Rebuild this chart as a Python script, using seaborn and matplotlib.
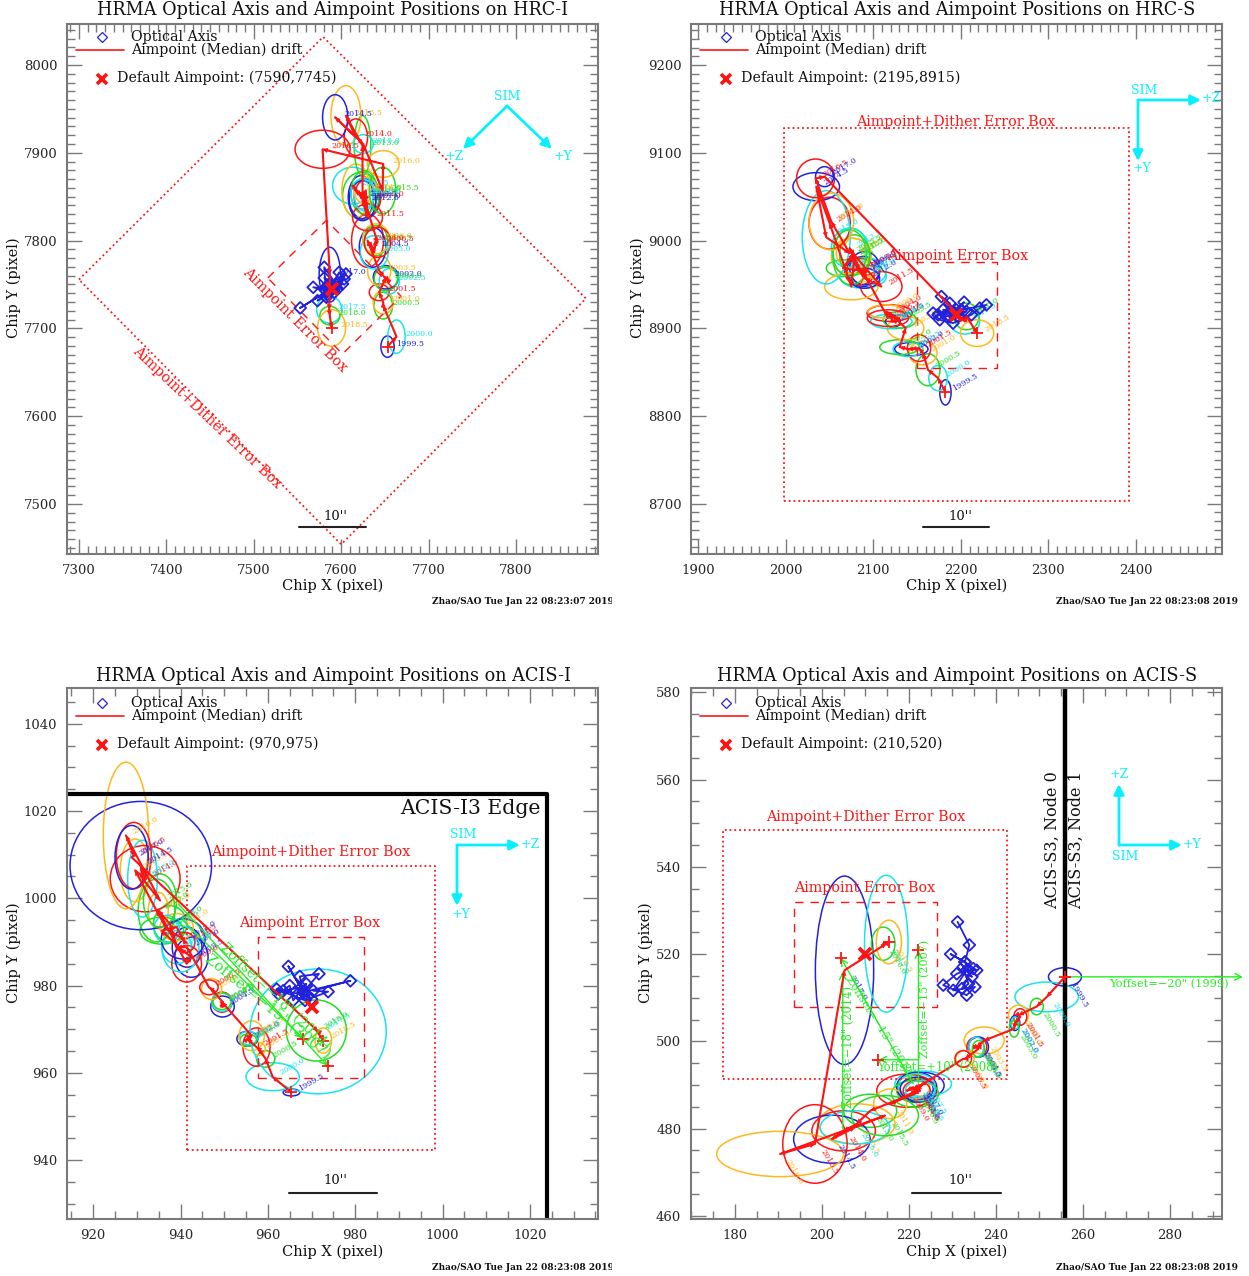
import seaborn as sns
import matplotlib.pyplot as plt
from matplotlib.patches import Ellipse, FancyArrowPatch
from matplotlib.ticker import MultipleLocator
from matplotlib.transforms import Bbox

# half-year sampling of the drift
years = ['1999.5', '2000.0', '2000.5', '2001.0', '2001.5', '2002.0', '2002.5', '2003.0',
         '2003.5', '2004.0', '2004.5', '2005.0', '2005.5', '2006.0', '2006.5', '2007.0',
         '2007.5', '2008.0', '2008.5', '2009.0', '2009.5', '2010.0', '2010.5', '2011.0',
         '2011.5', '2012.0', '2012.5', '2013.0', '2013.5', '2014.0', '2014.5', '2015.0',
         '2015.5', '2016.0', '2016.5', '2017.0', '2017.5', '2018.0', '2018.5']

# HRC-I
hrci_x = [7653.0, 7663.3, 7648.1, 7648.1, 7643.5, 7651.1, 7655.0, 7651.0, 7643.5, 7630.1,
          7635.9, 7637.8, 7639.7, 7639.7, 7641.6, 7626.3, 7613.0, 7622.5, 7616.8, 7630.1,
          7622.5, 7626.3, 7626.3, 7628.2, 7630.1, 7624.4, 7624.4, 7624.4, 7605.4, 7616.8,
          7593.1, 7625.2, 7647.3, 7648.1, 7578.7, 7587.0, 7586.3, 7587.0, 7589.0]
hrci_y = [7679.2, 7690.6, 7725.9, 7729.7, 7741.1, 7758.2, 7753.6, 7756.3, 7765.8, 7800.0,
          7792.4, 7786.7, 7800.0, 7801.9, 7798.0, 7847.4, 7862.6, 7851.2, 7856.9, 7849.3,
          7849.3, 7853.1, 7855.0, 7856.9, 7826.5, 7845.5, 7853.1, 7908.2, 7942.3, 7917.7,
          7940.4, 7910.0, 7856.9, 7887.3, 7904.0, 7761.2, 7721.4, 7714.5, 7700.5]
hrci_rx = [7.6, 9.9, 10.6, 11.4, 11.4, 14.4, 11.4, 13.3, 13.3, 18.2, 15.2, 16.0, 13.3, 15.2,
           15.2, 17.1, 22.8, 20.9, 16.0, 15.2, 14.4, 11.4, 15.2, 13.3, 17.1, 15.2, 13.3, 9.5,
           17.1, 13.3, 14.4, 11.4, 15.2, 18.2, 31.5, 12.2, 14.4, 11.4, 16.0]
hrci_ry = [12.2, 19.0, 15.2, 13.3, 9.5, 13.3, 14.4, 13.3, 17.1, 30.4, 22.8, 19.0, 17.1, 17.1,
           17.1, 22.8, 20.9, 26.6, 30.4, 20.9, 24.7, 19.0, 24.7, 15.2, 15.2, 22.8, 17.1, 34.2,
           34.2, 20.9, 25.8, 10.6, 26.6, 15.2, 21.7, 31.2, 15.2, 10.6, 20.9]
hrci_ox = [7588.2, 7553.1, 7588.2, 7568.0, 7582.5, 7580.6, 7593.9, 7580.6, 7590.1, 7597.7,
           7586.3, 7605.4, 7592.0, 7603.4, 7584.4, 7572.9, 7590.1, 7601.5, 7583.2, 7593.9,
           7588.2, 7586.3, 7595.8, 7584.4, 7592.0, 7580.6]
hrci_oy = [7744.9, 7723.3, 7744.9, 7746.8, 7743.0, 7769.6, 7750.6, 7757.4, 7746.8, 7763.9,
           7744.9, 7762.0, 7741.1, 7756.3, 7739.2, 7731.6, 7744.9, 7750.6, 7735.4, 7746.8,
           7743.0, 7750.6, 7744.9, 7746.8, 7748.7, 7744.9]

# HRC-S
hrcs_x = [2182.5, 2174.1, 2162.6, 2156.9, 2152.4, 2143.6, 2139.8, 2130.3, 2137.1, 2118.8,
          2122.6, 2120.7, 2130.3, 2115.0, 2116.9, 2088.4, 2092.9, 2065.5, 2075.0, 2084.5,
          2090.3, 2088.4, 2075.0, 2076.9, 2109.3, 2090.3, 2073.1, 2078.8, 2075.0, 2050.3,
          2035.0, 2046.4, 2073.1, 2052.2, 2034.2, 2044.5, 2204.6, 2206.5, 2218.7]
hrcs_y = [8826.8, 8843.1, 8852.6, 8871.6, 8877.3, 8876.2, 8876.2, 8878.4, 8900.1, 8917.2,
          8907.7, 8907.7, 8909.6, 8919.0, 8911.5, 8964.6, 8964.6, 8968.4, 8981.7, 8964.6,
          8968.4, 8958.9, 8981.7, 8985.5, 8947.5, 8957.0, 8991.2, 8983.6, 8947.5, 9019.7,
          9061.4, 9003.7, 8985.5, 9021.6, 9070.9, 9072.8, 8907.7, 8913.4, 8894.4]
hrcs_rx = [6.5, 10.6, 13.7, 16.0, 13.3, 19.0, 17.1, 22.8, 20.9, 25.8, 8.4, 23.6, 19.0, 20.9,
           23.6, 19.0, 22.0, 19.0, 22.8, 17.1, 17.1, 26.6, 20.9, 19.0, 23.6, 17.1, 20.9, 17.1,
           30.4, 23.6, 26.6, 27.4, 19.0, 25.5, 21.7, 10.3, 17.1, 14.4, 19.0]
hrcs_ry = [14.4, 14.4, 18.2, 13.3, 15.2, 7.6, 8.4, 8.4, 13.3, 9.5, 6.8, 8.4, 9.5, 7.6, 9.5,
           17.1, 15.2, 9.5, 20.9, 15.2, 19.0, 13.3, 32.3, 17.1, 17.1, 11.4, 22.8, 22.8, 15.2,
           29.6, 16.0, 53.2, 26.6, 32.3, 22.0, 11.4, 14.4, 15.2, 15.2]
hrcs_ox = [2193.1, 2177.9, 2187.4, 2193.1, 2203.8, 2195.0, 2168.4, 2176.0, 2191.2, 2212.2,
           2221.7, 2229.3, 2200.7, 2183.6, 2174.1, 2187.4, 2196.9, 2179.8, 2206.5, 2187.4]
hrcs_oy = [8917.2, 8936.1, 8928.5, 8917.2, 8929.7, 8921.0, 8917.2, 8909.6, 8905.8, 8915.3,
           8922.9, 8926.6, 8921.0, 8913.4, 8915.3, 8919.0, 8913.4, 8921.0, 8919.0, 8913.4]

# ACIS-I
acisi_x = [965.4, 961.1, 959.5, 957.9, 957.4, 955.3, 955.5, 955.5, 956.3, 949.5, 949.6, 949.5,
           949.5, 947.1, 946.5, 941.5, 939.1, 937.6, 934.9, 941.4, 942.5, 940.0, 935.7, 939.1,
           941.0, 940.6, 936.8, 934.5, 929.6, 931.9, 930.9, 931.3, 935.3, 927.5, 929.3, 928.8,
           971.5, 971.1, 972.7]
acisi_y = [955.5, 959.1, 963.2, 965.5, 965.9, 967.8, 968.0, 967.5, 968.5, 976.2, 975.2, 976.2,
           976.4, 979.2, 979.6, 988.8, 988.8, 994.1, 997.2, 985.0, 986.5, 988.4, 992.6, 993.4,
           989.9, 990.7, 993.0, 997.2, 1006.4, 1004.5, 1007.5, 1004.5, 999.5, 1014.4, 1009.8,
           1009.4, 969.5, 969.7, 967.4]
acisi_rx = [1.9, 6.1, 2.1, 1.5, 3.1, 2.4, 2.1, 1.9, 2.9, 2.3, 2.7, 2.3, 2.1, 2.3, 2.1, 3.4, 3.4,
            3.8, 2.3, 3.4, 3.8, 4.2, 5.0, 3.8, 2.3, 5.0, 2.9, 4.2, 3.4, 8.0, 16.2, 3.4, 3.8, 5.2,
            4.0, 3.8, 15.6, 6.9, 1.9]
acisi_ry = [0.8, 3.2, 1.9, 1.5, 4.4, 1.7, 1.5, 1.4, 3.4, 2.3, 2.4, 2.1, 1.9, 2.4, 1.7, 4.6, 3.8,
            4.2, 4.2, 4.2, 4.6, 5.3, 3.1, 3.1, 2.3, 4.6, 3.1, 7.2, 7.2, 7.6, 14.7, 8.8, 6.1, 16.8,
            7.6, 7.3, 14.3, 7.0, 2.9]
acisi_ox = [968.1, 964.7, 968.1, 967.3, 971.7, 968.1, 978.9, 970.4, 973.8, 968.5, 962.0, 962.4,
            965.0, 965.8, 968.8, 966.9, 969.2, 963.5, 967.7, 970.0]
acisi_oy = [978.5, 984.4, 978.5, 982.1, 982.7, 978.5, 981.1, 978.8, 978.6, 976.6, 979.2, 978.1,
            980.0, 976.6, 980.4, 978.1, 977.7, 978.8, 979.6, 976.9]

# ACIS-S
aciss_x = [255.9, 251.7, 249.4, 245.2, 245.6, 244.4, 244.4, 244.2, 237.3, 235.6, 236.0, 235.5,
           236.0, 232.9, 232.5, 222.7, 223.3, 221.8, 221.0, 219.5, 221.8, 221.8, 221.4, 215.7,
           221.8, 221.8, 222.6, 211.1, 208.0, 205.0, 202.3, 207.6, 214.5, 190.4, 198.4, 205.2,
           214.8, 214.1, 215.4]
aciss_y = [514.8, 510.2, 508.0, 506.0, 505.6, 504.2, 504.2, 502.9, 500.2, 498.7, 498.7, 498.7,
           498.3, 496.0, 496.0, 489.9, 490.3, 488.7, 489.5, 488.7, 489.5, 489.9, 488.0, 485.7,
           488.7, 489.1, 488.7, 484.1, 481.1, 479.5, 477.6, 480.3, 483.0, 474.2, 476.5, 516.3,
           522.4, 522.4, 522.8]
aciss_rx = [3.8, 7.3, 1.5, 2.3, 1.5, 1.1, 0.9, 1.1, 4.6, 2.3, 2.3, 1.7, 1.4, 2.1, 1.9, 5.4, 6.5,
            4.6, 3.8, 6.9, 4.6, 4.2, 5.4, 3.8, 3.1, 3.8, 3.4, 6.1, 8.8, 7.3, 8.8, 8.0, 7.7, 14.6,
            7.4, 6.7, 5.0, 2.7, 2.9]
aciss_ry = [2.1, 3.4, 1.9, 2.3, 1.9, 1.7, 1.4, 1.9, 3.1, 2.3, 2.3, 2.3, 1.9, 1.9, 1.9, 3.1, 2.9,
            2.7, 2.7, 3.8, 3.4, 2.7, 3.1, 3.4, 2.3, 2.7, 2.3, 3.8, 4.6, 4.6, 5.5, 3.8, 4.6, 5.2,
            9.0, 21.6, 15.7, 3.8, 5.0]
aciss_ox = [231.2, 233.9, 232.9, 229.6, 232.9, 235.6, 233.3, 231.0, 227.9, 233.3, 235.2, 230.2,
            233.3, 234.5, 232.5, 233.7, 232.2, 234.8]
aciss_oy = [527.4, 522.1, 518.2, 520.0, 518.2, 516.3, 516.3, 515.5, 512.9, 510.6, 512.5, 511.7,
            516.3, 514.8, 517.1, 513.2, 512.1, 516.7]

colors = ['#2222dd', '#18e4ee', '#22dd22', '#ffb81c', '#ff1414']
red = '#ff1414'
green = '#22ee22'
cyan = '#08f0ff'
gray = '#7a7a7a'
W, H = 1249, 1276

sns.set_theme(style='ticks')
plt.rcParams['font.family'] = ['DejaVu Serif', 'DejaVu Sans']
plt.rcParams['text.color'] = '#111111'

fig = plt.figure(figsize=(W / 100, H / 100), dpi=100)


def fx(px, py):
    return px / W, 1 - py / H


def ftext(px, py, s, size=10, color='#111111', ha='left', rot=0, **kw):
    return fig.text(px / W, 1 - py / H, s, fontsize=size, color=color, ha=ha, va='center',
                    rotation=rot, rotation_mode='anchor', zorder=10, **kw)


def farrow(p0, p1, color=cyan):
    fig.add_artist(FancyArrowPatch(fx(*p0), fx(*p1), transform=fig.transFigure, arrowstyle='-|>',
                                   color=color, lw=2, mutation_scale=15, shrinkA=0, shrinkB=0, zorder=10))


def make_axes(box, xlim, ylim, xmajor, ymajor, xminor, yminor):
    l, t, r, b = box
    ax = fig.add_axes([l / W, 1 - b / H, (r - l) / W, (b - t) / H])
    ax.set_xlim(*xlim)
    ax.set_ylim(*ylim)
    ax.xaxis.set_major_locator(MultipleLocator(xmajor))
    ax.yaxis.set_major_locator(MultipleLocator(ymajor))
    ax.xaxis.set_minor_locator(MultipleLocator(xminor))
    ax.yaxis.set_minor_locator(MultipleLocator(yminor))
    ax.tick_params(which='major', direction='in', length=11, width=1, color=gray, top=True, right=True,
                   labelsize=9.5, pad=7)
    ax.tick_params(which='minor', direction='in', length=5.5, width=1, color=gray, top=True, right=True)
    for s in ax.spines.values():
        s.set_color(gray)
        s.set_linewidth(1.5)
    return ax


def draw_drift(ax, x, y, rx, ry, ox, oy, rot, off):
    # ellipses + year labels
    for i, yr in enumerate(years):
        c = colors[i % 5]
        ax.add_patch(Ellipse((x[i], y[i]), 2 * rx[i], 2 * ry[i], fill=False, ec=c, lw=1.1))
        ax.annotate(yr, (x[i], y[i]), xytext=off, textcoords='offset pixels', fontsize=5.8, color=c,
                    rotation=rot, rotation_mode='anchor', ha='left', va='center')
    # optical axis
    sns.lineplot(x=ox, y=oy, sort=False, estimator=None, color=colors[0], lw=1.3, ax=ax, legend=False)
    sns.scatterplot(x=ox, y=oy, marker='D', s=36, facecolor='none', edgecolor=colors[0], linewidth=1.3,
                    ax=ax, legend=False, zorder=3)
    # aimpoint track
    sns.lineplot(x=x, y=y, sort=False, estimator=None, color=red, lw=1.5, ax=ax, legend=False, zorder=4)
    for i in range(1, len(x)):
        ax.annotate('', xy=(x[i], y[i]), xytext=(x[i - 1], y[i - 1]), zorder=4,
                    arrowprops=dict(arrowstyle='-|>', color=red, lw=0.6, mutation_scale=7,
                                    shrinkA=0, shrinkB=0))
    ax.plot([x[0], x[-1]], [y[0], y[-1]], '+', color=red, ms=8, mew=1.3, zorder=5)


def draw_common(ax, off_x, off_y, title, title_x, aim, xlab_x, ylab_x, ylab_y, xlab_y, stamp, stamp_y, clip):
    ftext(title_x, 10 + off_y, title, size=12.7, ha='center')
    ftext(xlab_x, xlab_y, 'Chip X (pixel)', size=10.5, ha='center')
    ftext(ylab_x, ylab_y, 'Chip Y (pixel)', size=10.5, ha='center', rot=90)
    ftext(131 + off_x, 37 + off_y, 'Optical Axis', size=10.3)
    ftext(131 + off_x, 50 + off_y, 'Aimpoint (Median) drift', size=10.3)
    ftext(117 + off_x, 78 + off_y, 'Default Aimpoint: ' + aim, size=10.2)
    fig.add_artist(plt.Line2D([(76 + off_x) / W, (124 + off_x) / W], [1 - (50 + off_y) / H] * 2, color=red, lw=1.2))
    fig.add_artist(plt.Line2D([(102 + off_x) / W], [1 - (37 + off_y) / H], marker='D', ms=5.5, mfc='none',
                              mec=colors[0], mew=0.9, ls=''))
    fig.add_artist(plt.Line2D([(102 + off_x) / W], [1 - (79 + off_y) / H], marker='x', ms=7.5, mec=red, mew=2.6, ls=''))
    t = ftext(432 + off_x, stamp_y, stamp, size=6.5, fontweight='bold')
    if clip:
        t.set_clip_box(Bbox([[0, 0], [612, H]]))
        t.set_clip_on(True)


def scale_bar(x0, x1, y, tx, ty):
    fig.add_artist(plt.Line2D([x0 / W, x1 / W], [1 - y / H] * 2, color='#222222', lw=1.5))
    ftext(tx, ty, "10''", size=9.5, ha='center')


# --- HRC-I
ax1 = make_axes((67, 24, 598, 554), (7286.3, 7893.8), (7443, 8046.7), 100, 100, 10, 10)
draw_drift(ax1, hrci_x, hrci_y, hrci_rx, hrci_ry, hrci_ox, hrci_oy, 0, (9, 3))
ax1.plot([7300, 7579.4, 7880, 7600, 7300], [7755.6, 8032, 7734, 7454, 7755.6], ls=':', color=red, lw=1.3)
ax1.plot([7516, 7583, 7668.5, 7601.5, 7516], [7757.4, 7823, 7736.6, 7670.9, 7757.4], ls=(0, (6, 5)), color=red, lw=1)
ax1.plot([7590], [7745], 'x', color=red, ms=9, mew=2.8, zorder=6)
ftext(135, 349, 'Aimpoint+Dither Error Box', size=10.3, color=red, rot=-43.5)
ftext(245, 270, 'Aimpoint Error Box', size=10.3, color=red, rot=-45)
draw_common(ax1, 0, 0, 'HRMA Optical Axis and Aimpoint Positions on HRC-I', 333, '(7590,7745)',
            333, 14, 288, 586, 'Zhao/SAO Tue Jan 22 08:23:07 2019', 602, True)
scale_bar(299, 366, 527, 335, 516)

# --- HRC-S
ax2 = make_axes((691, 24, 1222, 554), (1892, 2498.3), (8642.5, 9246.9), 100, 100, 10, 10)
draw_drift(ax2, hrcs_x, hrcs_y, hrcs_rx, hrcs_ry, hrcs_ox, hrcs_oy, 30, (8, 3))
ax2.plot([1998, 2392, 2392, 1998, 1998], [8703, 8703, 9128, 9128, 8703], ls=':', color=red, lw=1.3)
ax2.plot([2149.7, 2241, 2241, 2149.7, 2149.7], [8854.9, 8854.9, 8975.4, 8975.4, 8854.9], ls=(0, (6, 5)), color=red, lw=1)
ax2.plot([2195], [8915], 'x', color=red, ms=9, mew=2.8, zorder=6)
ftext(956, 122, 'Aimpoint+Dither Error Box', size=10.3, color=red, ha='center')
ftext(958, 256, 'Aimpoint Error Box', size=10.3, color=red, ha='center')
draw_common(ax2, 624, 0, 'HRMA Optical Axis and Aimpoint Positions on HRC-S', 957, '(2195,8915)',
            957, 638, 288, 586, 'Zhao/SAO Tue Jan 22 08:23:08 2019', 601, False)
scale_bar(923, 989, 527, 960, 516)

# --- ACIS-I
ax3 = make_axes((67, 688, 598, 1219), (914, 1035.6), (926.5, 1048.2), 20, 20, 5, 5)
draw_drift(ax3, acisi_x, acisi_y, acisi_rx, acisi_ry, acisi_ox, acisi_oy, 30, (8, 3))
ax3.plot([941.5, 998.2, 998.2, 941.5, 941.5], [942.4, 942.4, 1007.5, 1007.5, 942.4], ls=':', color=red, lw=1.3)
ax3.plot([957.7, 982, 982, 957.7, 957.7], [958.9, 958.9, 991.2, 991.2, 958.9], ls=(0, (6, 5)), color=red, lw=1)
ax3.plot([914, 1024, 1024], [1024, 1024, 926.5], color='black', lw=3, solid_capstyle='butt')
ax3.plot([970], [975], 'x', color=red, ms=9, mew=2.8, zorder=6)
ax3.plot([973.7, 968.1], [961.6, 967.8], '+', color=red, ms=8, mew=1.3, zorder=5)
for x0, y0, x1, y1 in [(939.5, 998.7, 973.7, 961.6), (940.6, 994.9, 968.1, 967.8)]:
    ax3.annotate('', xy=(x1, y1), xytext=(x0, y0),
                 arrowprops=dict(arrowstyle='->', color=green, lw=1, shrinkA=0, shrinkB=0))
ftext(211, 852, 'Aimpoint+Dither Error Box', size=10.3, color=red)
ftext(239, 923, 'Aimpoint Error Box', size=10.3, color=red)
ftext(400, 809, 'ACIS-I3 Edge', size=14.7)
ftext(222, 945, 'Zoffset=\u221218" (2014)', size=10, color=green, rot=-44)
ftext(207, 957, 'Zoffset=\u221215" (2007)', size=10.6, color=green, rot=-39)
draw_common(ax3, 0, 666, 'HRMA Optical Axis and Aimpoint Positions on ACIS-I', 333, '(970,975)',
            333, 14, 953, 1252, 'Zhao/SAO Tue Jan 22 08:23:08 2019', 1267, True)
scale_bar(289, 377, 1193, 335, 1181)

# --- ACIS-S
ax4 = make_axes((691, 688, 1222, 1219), (169.9, 292), (459.3, 581), 20, 20, 5, 5)
draw_drift(ax4, aciss_x, aciss_y, aciss_rx, aciss_ry, aciss_ox, aciss_oy, -60, (7, -6))
ax4.plot([177.2, 242.5, 242.5, 177.2, 177.2], [491.3, 491.3, 548.5, 548.5, 491.3], ls=':', color=red, lw=1.3)
ax4.plot([193.6, 226.4, 226.4, 193.6, 193.6], [507.8, 507.8, 532, 532, 507.8], ls=(0, (6, 5)), color=red, lw=1)
ax4.axvline(256, color='black', lw=3.2)
ax4.plot([210], [520], 'x', color=red, ms=9, mew=2.8, zorder=6)
ax4.plot([204.3, 222.2, 213], [519.2, 520.9, 495.8], '+', color=red, ms=8, mew=1.3, zorder=5)
for x0, y0, x1, y1 in [(204.8, 479.9, 204.8, 516), (222.2, 490.3, 222.2, 520.9),
                       (221, 490.3, 204.3, 519.2), (222.2, 495.8, 213, 495.8)]:
    ax4.annotate('', xy=(x1, y1), xytext=(x0, y0),
                 arrowprops=dict(arrowstyle='->', color=green, lw=1, shrinkA=0, shrinkB=0))
ax4.annotate('', xy=(296.8, 514.8), xytext=(255.9, 514.8), annotation_clip=False,
             arrowprops=dict(arrowstyle='->', color=green, lw=1, shrinkA=0, shrinkB=0))
ftext(766, 817, 'Aimpoint+Dither Error Box', size=10.3, color=red)
ftext(794, 888, 'Aimpoint Error Box', size=10.3, color=red)
ftext(1052, 840, 'ACIS-S3, Node 0', size=11.6, ha='center', rot=90)
ftext(1076, 840, 'ACIS-S3, Node 1', size=11.6, ha='center', rot=90)
ftext(1109, 984, 'Yoffset=\u221220" (1999)', size=8.2, color=green)
ftext(848, 1108, 'Zoffset=\u221218" (2014)', size=8.3, color=green, rot=90)
ftext(925, 1058, 'Zoffset=\u221215" (2007)', size=8.0, color=green, rot=90)
ftext(848, 977, 'Zoffset=\u221215" (2012)', size=8, color=green, rot=-58)
ftext(877, 1067, 'Yoffset=+10" (2008)', size=8.3, color=green)
draw_common(ax4, 624, 666, 'HRMA Optical Axis and Aimpoint Positions on ACIS-S', 957, '(210,520)',
            957, 646, 953, 1252, 'Zhao/SAO Tue Jan 22 08:23:08 2019', 1267, False)
scale_bar(912, 1001, 1193, 960, 1181)

# SIM direction arrows
farrow((507, 106), (463, 149))
farrow((507, 106), (552, 149))
ftext(507, 96, 'SIM', size=9, color=cyan, ha='center')
ftext(454, 157, '+Z', size=9, color=cyan, ha='center')
ftext(563, 157, '+Y', size=9, color=cyan, ha='center')
farrow((1138, 100), (1201, 100))
farrow((1138, 100), (1138, 161))
ftext(1144, 90, 'SIM', size=9, color=cyan, ha='center')
ftext(1211, 99, '+Z', size=9, color=cyan, ha='center')
ftext(1142, 169, '+Y', size=9, color=cyan, ha='center')
farrow((457, 845), (520, 845))
farrow((457, 845), (457, 906))
ftext(463, 835, 'SIM', size=9, color=cyan, ha='center')
ftext(530, 844, '+Z', size=9, color=cyan, ha='center')
ftext(461, 914, '+Y', size=9, color=cyan, ha='center')
farrow((1119, 845), (1182, 845))
farrow((1119, 845), (1119, 784))
ftext(1125, 856, 'SIM', size=9, color=cyan, ha='center')
ftext(1192, 844, '+Y', size=9, color=cyan, ha='center')
ftext(1119, 775, '+Z', size=9, color=cyan, ha='center')

fig.savefig('out.png', dpi=100)
